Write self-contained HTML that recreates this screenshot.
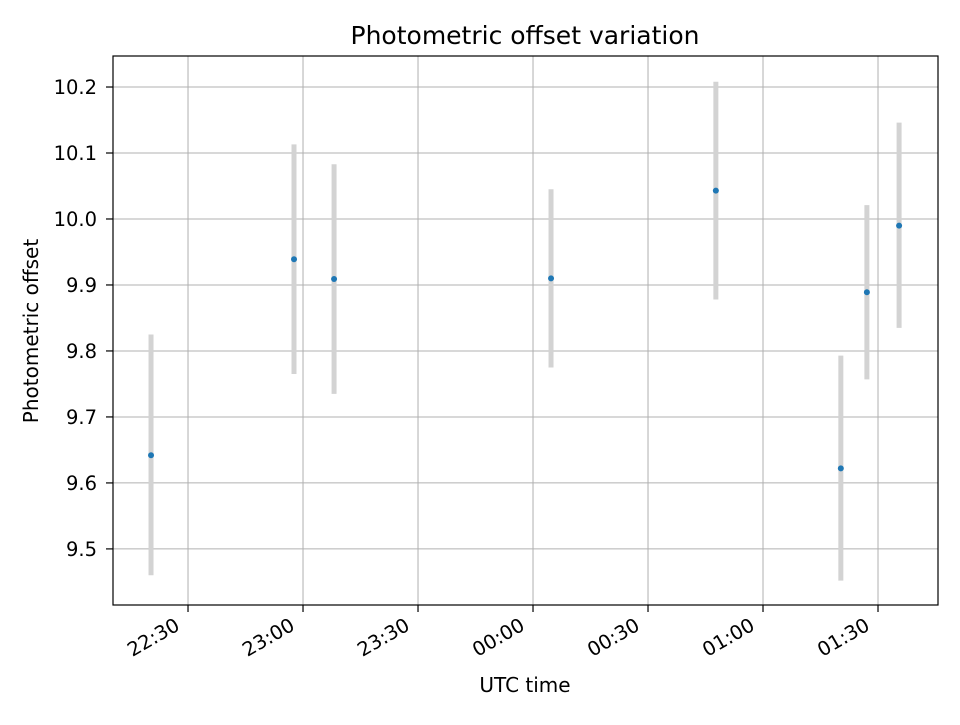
<!DOCTYPE html>
<html><head><meta charset="utf-8"><style>
body{margin:0;background:#fff}
svg text{font-family:"DejaVu Sans","Liberation Sans",sans-serif;fill:#000}
</style></head><body>
<svg id="chart" width="960" height="720" viewBox="0 0 960 720" xmlns="http://www.w3.org/2000/svg">
<rect width="960" height="720" fill="#fff"/>
<g id="grid"></g><g id="marks"></g><g id="axes"></g>
<text x="525" y="44" font-size="25" text-anchor="middle">Photometric offset variation</text>
<text x="525" y="692" font-size="20" text-anchor="middle">UTC time</text>
<text transform="translate(38,331) rotate(-90)" font-size="20" text-anchor="middle">Photometric offset</text>
</svg>
<script>
// minutes since 22:30 UTC
const times = [-9.65, 27.65, 38.1, 94.7, 137.7, 170.3, 177.1, 185.5];
const offsets = [9.642, 9.939, 9.909, 9.910, 10.043, 9.622, 9.889, 9.990];
const errLow = [9.460, 9.765, 9.735, 9.775, 9.878, 9.452, 9.757, 9.835];
const errHigh = [9.825, 10.113, 10.083, 10.045, 10.208, 9.793, 10.021, 10.146];
const xTickValues = [0, 30, 60, 90, 120, 150, 180];
const xTickLabels = ["22:30", "23:00", "23:30", "00:00", "00:30", "01:00", "01:30"];
const yTickValues = [9.5, 9.6, 9.7, 9.8, 9.9, 10.0, 10.1, 10.2];

const L=113,R=938,T=56,B=605;
const x0=-19.57,x1=195.65,y0=9.415,y1=10.247;
const sx=v=>L+(v-x0)/(x1-x0)*(R-L);
const sy=v=>B-(v-y0)/(y1-y0)*(B-T);
const NS="http://www.w3.org/2000/svg";
function mk(p,tag,attrs){const e=document.createElementNS(NS,tag);for(const k in attrs)e.setAttribute(k,attrs[k]);p.appendChild(e);return e;}
const grid=document.getElementById('grid'),marks=document.getElementById('marks'),axes=document.getElementById('axes');
xTickValues.forEach((v,i)=>{
  const x=sx(v);
  const g=mk(grid,'line',{x1:x,x2:x,y1:T,y2:B,stroke:'#b0b0b0','stroke-width':1});
  
  
  mk(axes,'line',{x1:x,x2:x,y1:B,y2:B+7,stroke:'#000','stroke-width':1.2});
  const t=mk(axes,'text',{transform:`translate(${x-7},${B+24}) rotate(-30)`,'font-size':19.5,'text-anchor':'end'});
  t.textContent=xTickLabels[i];
  
  
});
yTickValues.forEach(v=>{
  const y=sy(v);
  const g=mk(grid,'line',{x1:L,x2:R,y1:y,y2:y,stroke:'#b0b0b0','stroke-width':1});
  
  
  mk(axes,'line',{x1:L-7,x2:L,y1:y,y2:y,stroke:'#000','stroke-width':1.2});
  const t=mk(axes,'text',{x:L-16,y:y+7,'font-size':19.5,'text-anchor':'end'});
  t.textContent=v.toFixed(1);
  
  
});
times.forEach((tm,i)=>{
  const x=sx(tm);
  const e=mk(marks,'line',{x1:x,x2:x,y1:sy(errLow[i]),y2:sy(errHigh[i]),stroke:'#d3d3d3','stroke-width':5});
  
  
  const c=mk(marks,'circle',{cx:x,cy:sy(offsets[i]),r:3,fill:'#1f77b4'});
  
  
});
const f=mk(axes,'rect',{x:L,y:T,width:R-L,height:B-T,fill:'none',stroke:'#000','stroke-width':1.2});


</script>
</body></html>
